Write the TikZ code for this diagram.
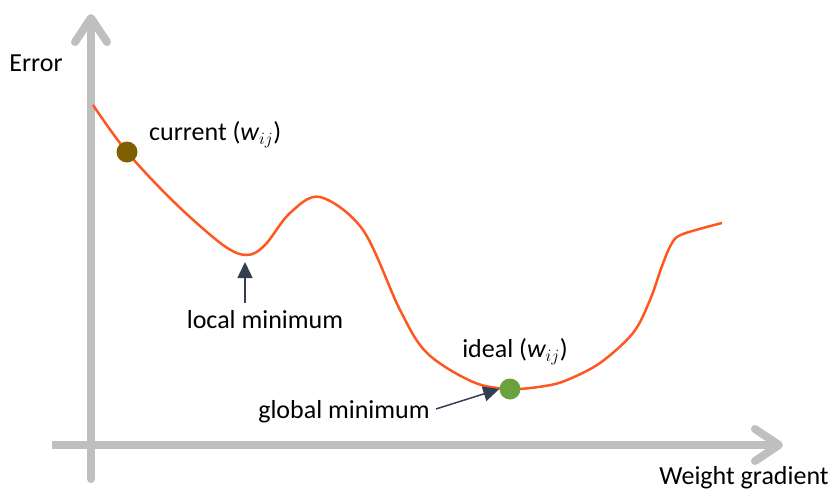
\documentclass[tikz,border=0pt]{standalone}
\usepackage{fontspec}
\setmainfont{Carlito}
\usetikzlibrary{arrows.meta,positioning}
\definecolor{axisgray}{HTML}{BFBFBF}
\definecolor{curveorange}{HTML}{FF5722}
\definecolor{dotbrown}{HTML}{7F6000}
\definecolor{dotgreen}{HTML}{6AA23E}
\definecolor{pointer}{HTML}{333F50}
\begin{document}
\begin{tikzpicture}[x=1pt,y=-1pt,font=\fontsize{26}{30}\selectfont,
  axis/.style={draw=axisgray,line width=8pt,line cap=round,-{Straight Barb[round,length=24pt,width=32pt]}},
  dot/.style={shape=circle,inner sep=0pt,minimum size=21pt},
  lbl/.style={inner sep=0pt},
  pointarrow/.style={draw=pointer,line width=1.5pt,-{Triangle[length=16pt,width=15pt]}}]
\useasboundingbox (0,0) rectangle (833,493);

% axes
\draw[axis] (91,479) -- (91,14);
\draw[axis,line cap=butt] (52,445) -- (783,445);
\node[lbl] (E) at (36,63) {Error};
\node[lbl] (W) at (744,478) {Weight gradient};

% error curve
\draw[curveorange,line width=2.5pt] plot[smooth,tension=0.55] coordinates {
  (93,105) (127,152) (175,203) (223,245) (247,255) (265,245)
  (290,213) (320,197) (363,230) (400,310) (427,353) (473,382) (510,389)
  (545,386) (567,380) (600,363) (633,333) (650,300) (662,266) (672,243)
  (683,234) (722,223)};

\node[dot,fill=dotbrown] (C) at (127,152) {};
\node[dot,fill=dotgreen] (I) at (510,389) {};
\node[lbl,anchor=west] (CL) at (149,135) {current (\(\mathit{w}_{ij}\))};
\node[lbl] (IL) at (515,352) {ideal (\(\mathit{w}_{ij}\))};

% minima
\coordinate (L) at (245,262);
\node[lbl] (LL) at (265,320) {local minimum};
\node[lbl] (GL) at (344,412) {global minimum};
\draw[pointarrow] (245,303) -- (L);
\draw[pointarrow] (GL.east) ++(6,-3) -- (I.west);
\end{tikzpicture}
\end{document}
